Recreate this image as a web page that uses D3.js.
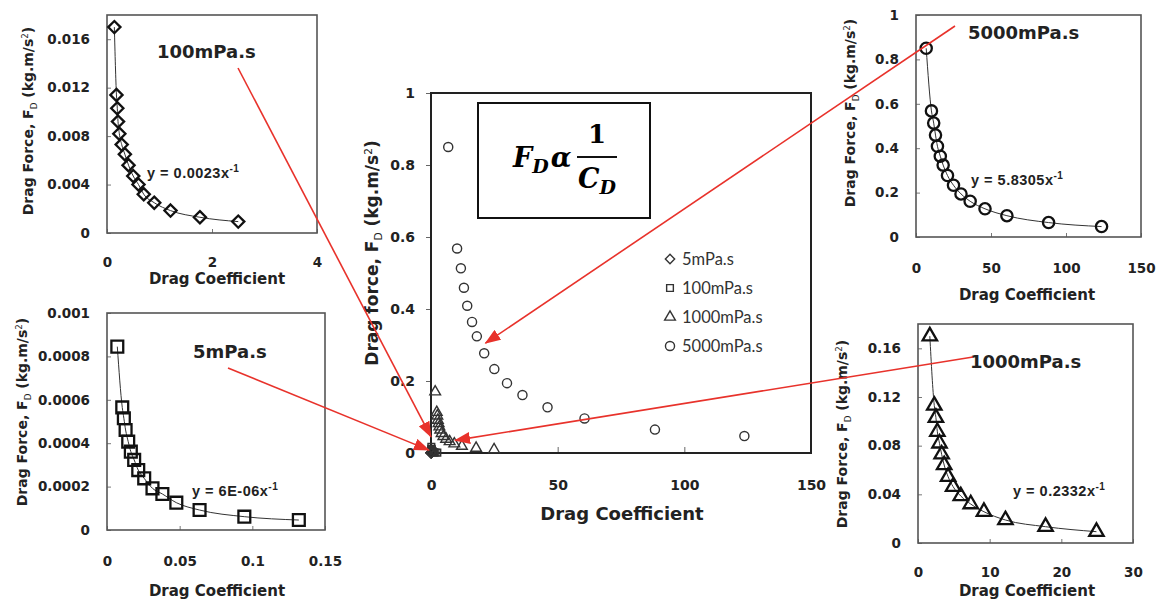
<!DOCTYPE html>
<html>
<head>
<meta charset="utf-8">
<script src="https://cdn.jsdelivr.net/npm/d3@7"></script>
<style>
  body { margin: 0; background: #fff; }
  svg { display: block; font-family: "DejaVu Sans", Verdana, sans-serif; }
</style>
</head>
<body>
<svg id="chart" width="1164" height="602"></svg>
<script>
// drag coefficient (x) and drag force (y), one pair of arrays per viscosity
const viscosities = ['5mPa.s', '100mPa.s', '1000mPa.s', '5000mPa.s'];
const cd5 = [0.0071, 0.0105, 0.0116, 0.0128, 0.0146, 0.0164, 0.0187, 0.0215, 0.0256, 0.0313, 0.0381, 0.0477, 0.0637, 0.0945, 0.132];
const fd5 = [0.000845, 0.000565, 0.000515, 0.000461, 0.000407, 0.000361, 0.000323, 0.000276, 0.000238, 0.000192, 0.000166, 0.000126, 0.000092, 0.0000614, 0.000046];
const cd100 = [0.14, 0.18, 0.196, 0.21, 0.235, 0.28, 0.34, 0.41, 0.50, 0.60, 0.70, 0.90, 1.21, 1.77, 2.50];
const fd100 = [0.0170, 0.0114, 0.0103, 0.0092, 0.0082, 0.0073, 0.0065, 0.0056, 0.0047, 0.0040, 0.0032, 0.0025, 0.00185, 0.0013, 0.00094];
const cd1000 = [1.65, 2.27, 2.5, 2.7, 3.0, 3.3, 3.65, 4.2, 4.9, 5.97, 7.36, 9.2, 12.2, 17.8, 24.9];
const fd1000 = [0.170, 0.113, 0.103, 0.0914, 0.0819, 0.0729, 0.0641, 0.0545, 0.0463, 0.0386, 0.032, 0.0257, 0.0189, 0.0134, 0.0093];
const cd5000 = [6.8, 10.3, 11.8, 13.0, 14.3, 16.2, 18.1, 21.0, 25.0, 30.0, 36.1, 46.0, 60.6, 88.4, 123.7];
const fd5000 = [0.85, 0.568, 0.513, 0.459, 0.409, 0.364, 0.324, 0.277, 0.233, 0.194, 0.161, 0.127, 0.096, 0.065, 0.047];
const fitCoefs = ['6E-06', '0.0023', '0.2332', '5.8305'];

// axis ticks
const xTicks5 = [0, 0.05, 0.1, 0.15];
const yTicks5 = [0, 0.0002, 0.0004, 0.0006, 0.0008, 0.001];
const xTicks100 = [0, 2, 4];
const yTicks100 = [0, 0.004, 0.008, 0.012, 0.016];
const xTicks1000 = [0, 10, 20, 30];
const yTicks1000 = [0, 0.04, 0.08, 0.12, 0.16];
const xTicks5000 = [0, 50, 100, 150];
const yTicks5000 = [0, 0.2, 0.4, 0.6, 0.8, 1];
const xTicksMain = [0, 50, 100, 150];
const yTicksMain = [0, 0.2, 0.4, 0.6, 0.8, 1];

const svg = d3.select('#chart');
const fmt = d3.format('~g');
const red = '#e8322b';

const shapes = {
    diamond: d3.symbolDiamond2,
    square: d3.symbolSquare,
    triangle: d3.symbolTriangle,
    circle: d3.symbolCircle
};

function yTitle(g, cx, cy, size, lead) {
    const t = g.append('text')
        .attr('transform', `translate(${cx},${cy}) rotate(-90)`)
        .attr('text-anchor', 'middle')
        .attr('font-size', size)
        .attr('font-weight', 'bold')
        .attr('fill', '#222');
    t.append('tspan').text(lead);
    t.append('tspan').attr('dy', size * 0.25).attr('font-size', size * 0.62).attr('font-weight', 'normal').text('D');
    t.append('tspan').attr('dy', -size * 0.25).text(' (kg.m/s');
    t.append('tspan').attr('dy', -size * 0.38).attr('font-size', size * 0.62).attr('font-weight', 'normal').text('2');
    t.append('tspan').attr('dy', size * 0.38).text(')');
}

function drawPanel(p) {
    const g = svg.append('g').attr('class', 'panel');
    const x = d3.scaleLinear().domain(p.xDomain).range([p.box.l, p.box.r]);
    const y = d3.scaleLinear().domain(p.yDomain).range([p.box.b, p.box.t]);

    const xa = g.append('g')
        .attr('transform', `translate(0,${p.box.b})`)
        .call(d3.axisBottom(x).tickValues(p.xTicks).tickFormat(fmt)
            .tickSizeInner(-4).tickSizeOuter(0).tickPadding(p.xPad || 26));
    const ya = g.append('g')
        .attr('transform', `translate(${p.box.l},0)`)
        .call(d3.axisLeft(y).tickValues(p.yTicks).tickFormat(fmt)
            .tickSizeInner(-4).tickSizeOuter(0).tickPadding(17));
    [xa, ya].forEach(a => {
        a.select('.domain').remove();
        a.selectAll('line').attr('stroke', '#777');
        a.selectAll('text').attr('font-size', 13.5).attr('font-weight', 'bold')
            .attr('fill', '#222').attr('font-family', '"DejaVu Sans", Verdana, sans-serif');
    });

    g.append('rect')
        .attr('x', p.box.l).attr('y', p.box.t)
        .attr('width', p.box.r - p.box.l).attr('height', p.box.b - p.box.t)
        .attr('fill', 'none').attr('stroke', '#555').attr('stroke-width', 1.6);

    const pts = d3.zip(p.cd, p.fd);
    g.append('path')
        .datum(pts)
        .attr('fill', 'none').attr('stroke', '#333').attr('stroke-width', 1)
        .attr('d', d3.line().x(d => x(d[0])).y(d => y(d[1])).curve(d3.curveMonotoneX));

    g.selectAll('path.pt')
        .data(pts)
        .join('path')
            .classed('pt', true)
            .attr('transform', d => `translate(${x(d[0])},${y(d[1])})`)
            .attr('d', d3.symbol(shapes[p.marker], p.size))
            .attr('fill', 'none').attr('stroke', '#111').attr('stroke-width', 2.3);

    g.append('text')
        .attr('x', p.labelAt[0]).attr('y', p.labelAt[1])
        .attr('font-size', 18).attr('font-weight', 'bold').attr('fill', '#222')
        .text(p.label);

    const eq = g.append('text')
        .attr('x', p.eqAt[0]).attr('y', p.eqAt[1])
        .attr('font-family', '"Liberation Sans", Arial, sans-serif')
        .attr('font-size', 14.5).attr('font-weight', 'bold').attr('fill', '#222')
        .attr('letter-spacing', 0.5);
    eq.append('tspan').text(`y = ${p.coef}x`);
    eq.append('tspan').attr('dy', -6).attr('font-size', 10).text('-1');

    yTitle(g, p.yTitleAt[0], p.yTitleAt[1], 14, 'Drag Force, F');
    g.append('text')
        .attr('x', p.xTitleAt[0]).attr('y', p.xTitleAt[1])
        .attr('text-anchor', 'middle')
        .attr('font-size', 15).attr('font-weight', 'bold').attr('fill', '#222')
        .text('Drag Coefficient');
}

drawPanel({
    box: { l: 107, r: 317, t: 15, b: 233 }, xDomain: [0, 4], yDomain: [0, 0.018],
    xTicks: xTicks100, yTicks: yTicks100, cd: cd100, fd: fd100, xPad: 24,
    marker: 'diamond', size: 95, label: viscosities[1], coef: fitCoefs[1],
    labelAt: [157, 58], eqAt: [147, 178], yTitleAt: [33, 121], xTitleAt: [217, 284]
});
drawPanel({
    box: { l: 107, r: 325, t: 313, b: 530 }, xDomain: [0, 0.15], yDomain: [0, 0.001],
    xTicks: xTicks5, yTicks: yTicks5, cd: cd5, fd: fd5,
    marker: 'square', size: 140, label: viscosities[0], coef: fitCoefs[0],
    labelAt: [193, 358], eqAt: [192, 496], yTitleAt: [27, 412], xTitleAt: [217, 596]
});
drawPanel({
    box: { l: 916, r: 1141, t: 15, b: 237 }, xDomain: [0, 150], yDomain: [0, 1],
    xTicks: xTicks5000, yTicks: yTicks5000, cd: cd5000, fd: fd5000,
    marker: 'circle', size: 100, label: viscosities[3], coef: fitCoefs[3],
    labelAt: [968, 39], eqAt: [971, 185], yTitleAt: [855, 113], xTitleAt: [1027, 300]
});
drawPanel({
    box: { l: 918, r: 1133, t: 324, b: 543 }, xDomain: [0, 30], yDomain: [0, 0.18],
    xTicks: xTicks1000, yTicks: yTicks1000, cd: cd1000, fd: fd1000, xPad: 24,
    marker: 'triangle', size: 90, label: viscosities[2], coef: fitCoefs[2],
    labelAt: [970, 368], eqAt: [1013, 496], yTitleAt: [847, 434], xTitleAt: [1027, 596]
});

// main chart with all four viscosities
const main = svg.append('g').attr('class', 'main');
const mb = { l: 431, r: 811, t: 93, b: 453 };
const mx = d3.scaleLinear().domain([0, 150]).range([mb.l, mb.r]);
const my = d3.scaleLinear().domain([0, 1]).range([mb.b, mb.t]);

const mxa = main.append('g')
    .attr('transform', `translate(0,${mb.b})`)
    .call(d3.axisBottom(mx).tickValues(xTicksMain).tickFormat(fmt)
        .tickSizeInner(-6).tickSizeOuter(0).tickPadding(27));
const mya = main.append('g')
    .attr('transform', `translate(${mb.l},0)`)
    .call(d3.axisLeft(my).tickValues(yTicksMain).tickFormat(fmt)
        .tickSizeInner(5).tickSizeOuter(0).tickPadding(11));
[mxa, mya].forEach(a => {
    a.select('.domain').remove();
    a.selectAll('line').attr('stroke', '#666');
    a.selectAll('text').attr('font-size', 14).attr('font-weight', 'bold')
        .attr('fill', '#222').attr('font-family', '"DejaVu Sans", Verdana, sans-serif');
});
main.append('rect')
    .attr('x', mb.l).attr('y', mb.t)
    .attr('width', mb.r - mb.l).attr('height', mb.b - mb.t)
    .attr('fill', 'none').attr('stroke', '#222').attr('stroke-width', 2);

const mainSeries = [
    { cd: cd1000, fd: fd1000, marker: 'triangle', size: 50 },
    { cd: cd100, fd: fd100, marker: 'square', size: 45 },
    { cd: cd5, fd: fd5, marker: 'diamond', size: 55 },
    { cd: cd5000, fd: fd5000, marker: 'circle', size: 65 }
];
mainSeries.forEach(s => {
    main.append('g')
        .selectAll('path')
        .data(d3.zip(s.cd, s.fd))
        .join('path')
            .attr('transform', d => `translate(${mx(d[0])},${my(d[1])})`)
            .attr('d', d3.symbol(shapes[s.marker], s.size))
            .attr('fill', 'none').attr('stroke', '#333').attr('stroke-width', 1.4);
});

yTitle(main, 378, 253, 17, 'Drag force, F');
main.append('text')
    .attr('x', 622).attr('y', 520)
    .attr('text-anchor', 'middle')
    .attr('font-size', 18).attr('font-weight', 'bold').attr('fill', '#222')
    .text('Drag Coefficient');

// legend
const legendOrder = ['diamond', 'square', 'triangle', 'circle'];
const legend = main.append('g')
    .selectAll('g')
    .data(viscosities)
    .join('g')
        .attr('transform', (d, i) => `translate(670,${259 + i * 29})`);
legend.append('path')
    .attr('d', (d, i) => d3.symbol(shapes[legendOrder[i]], [55, 45, 50, 65][i])())
    .attr('fill', 'none').attr('stroke', '#333').attr('stroke-width', 1.4);
legend.append('text')
    .attr('x', 12).attr('dy', '0.35em')
    .attr('font-family', 'Lato, "Open Sans", sans-serif')
    .attr('font-size', 16.5).attr('fill', '#333')
    .text(d => d);

// proportionality box
const fb = main.append('g').attr('font-family', '"DejaVu Serif", serif').attr('font-weight', 'bold');
fb.append('rect')
    .attr('x', 478).attr('y', 103).attr('width', 172).attr('height', 115)
    .attr('fill', 'none').attr('stroke', '#111').attr('stroke-width', 2);
const lhs = fb.append('text').attr('x', 513).attr('y', 167).attr('font-size', 27).attr('font-style', 'italic');
lhs.append('tspan').text('F');
lhs.append('tspan').attr('dy', 6).attr('font-size', 19).text('D');
lhs.append('tspan').attr('dy', -6).attr('dx', 2).text('α');
fb.append('line')
    .attr('x1', 577).attr('x2', 617).attr('y1', 157).attr('y2', 157)
    .attr('stroke', '#111').attr('stroke-width', 2);
fb.append('text').attr('x', 597).attr('y', 143).attr('text-anchor', 'middle').attr('font-size', 26).text('1');
const den = fb.append('text').attr('x', 578).attr('y', 188).attr('font-size', 27).attr('font-style', 'italic');
den.append('tspan').text('C');
den.append('tspan').attr('dy', 6).attr('font-size', 19).text('D');

// red arrows from the panel labels to the main chart
svg.append('defs').append('marker')
    .attr('id', 'head')
    .attr('markerUnits', 'userSpaceOnUse')
    .attr('markerWidth', 16).attr('markerHeight', 12)
    .attr('refX', 15).attr('refY', 6)
    .attr('orient', 'auto')
    .append('path').attr('d', 'M0,0 L16,6 L0,12 Z').attr('fill', red);

const arrows = [
    { from: [238, 68], to: [mx(0), my(0.045)] },
    { from: [228, 368], to: [mx(0) - 2, my(0.008)] },
    { from: [955, 26], to: [mx(21.5), my(0.305)] },
    { from: [973, 357], to: [mx(9.5), my(0.035)] }
];
svg.append('g')
    .selectAll('line')
    .data(arrows)
    .join('line')
        .attr('x1', d => d.from[0]).attr('y1', d => d.from[1])
        .attr('x2', d => d.to[0]).attr('y2', d => d.to[1])
        .attr('stroke', red).attr('stroke-width', 1.6)
        .attr('marker-end', 'url(#head)');
</script>
</body>
</html>
